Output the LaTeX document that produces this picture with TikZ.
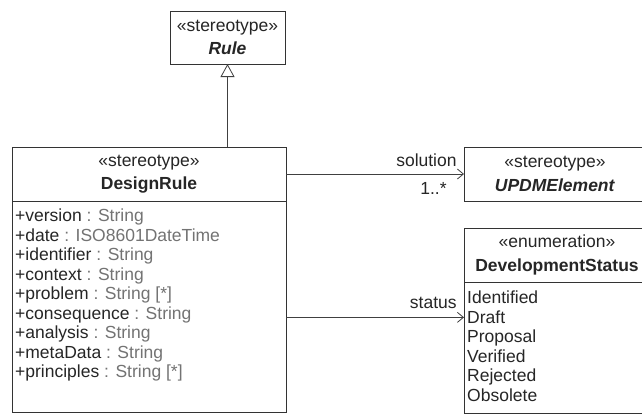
\documentclass[tikz,border=0pt]{standalone}
\usepackage{fontspec}
\setmainfont{Liberation Sans}
\usetikzlibrary{arrows.meta, positioning, calc}
\newcommand{\attrtype}[1]{\textcolor{black!55}{#1}}

\begin{document}
\begin{tikzpicture}[
    x=1pt, y=-1pt,
    every node/.style={font=\fontsize{17.5}{19.5}\selectfont, text=black!85},
    box/.style={rectangle, draw=black!80, line width=1pt, fill=white,
                inner sep=0pt, outer sep=0pt, align=center},
    list/.style={align=left, inner sep=0pt},
    assoc/.style={-{Straight Barb[length=6pt, width=10pt]}, line width=0.8pt, draw=black!75},
    gen/.style={-{Triangle[open, length=13pt, width=14pt, fill=white]}, line width=0.8pt, draw=black!75},
    role/.style={inner sep=0pt, anchor=base east}
]
\path[use as bounding box, clip] (0,0) rectangle (642,416);
\fill[white] (0,0) rectangle (642,416);

\node[box, minimum width=115pt, minimum height=53pt] (rule) at (227.5, 37.5)
    {«stereotype»\\[4pt]\textbf{\textit{Rule}}};

\node[box, minimum width=274pt, minimum height=54pt] (designhead) at (149, 174)
    {«stereotype»\\[4pt]\textbf{DesignRule}};
\node[box, minimum width=274pt, minimum height=211pt, below=0pt of designhead] (designbody) {};
\node[list, below right=8pt and 3pt of designbody.north west] (designattr)
    {+version \attrtype{: String}\\+date \attrtype{: ISO8601DateTime}\\
     +identifier \attrtype{: String}\\+context \attrtype{: String}\\
     +problem \attrtype{: String [*]}\\+consequence \attrtype{: String}\\
     +analysis \attrtype{: String}\\+metaData \attrtype{: String}\\
     +principles \attrtype{: String [*]}};

\node[box, minimum width=182pt, minimum height=54pt] (updm) at (555, 174)
    {«stereotype»\\[4pt]\textbf{\textit{UPDMElement}}};

\node[box, minimum width=186pt, minimum height=54pt] (devhead) at (557, 255)
    {«enumeration»\\[4pt]\textbf{DevelopmentStatus}};
\node[box, minimum width=186pt, minimum height=131pt, below=0pt of devhead] (devbody) {};
\node[list, below right=9pt and 3pt of devbody.north west] (devlist)
    {Identified\\Draft\\Proposal\\Verified\\Rejected\\Obsolete};

\draw[gen] (rule.south |- designhead.north) -- (rule.south);

\draw[assoc] (designhead.east) -- (updm.west)
    node[role, xshift=-7pt, yshift=8pt] {solution}
    node[role, xshift=-17pt, yshift=-20pt] {1..*};

\coordinate (st) at ($(devbody.north west)!0.27!(devbody.south west)$);
\draw[assoc] (st -| designbody.east) -- (st)
    node[role, xshift=-7pt, yshift=9pt] {status};
\end{tikzpicture}
\end{document}
